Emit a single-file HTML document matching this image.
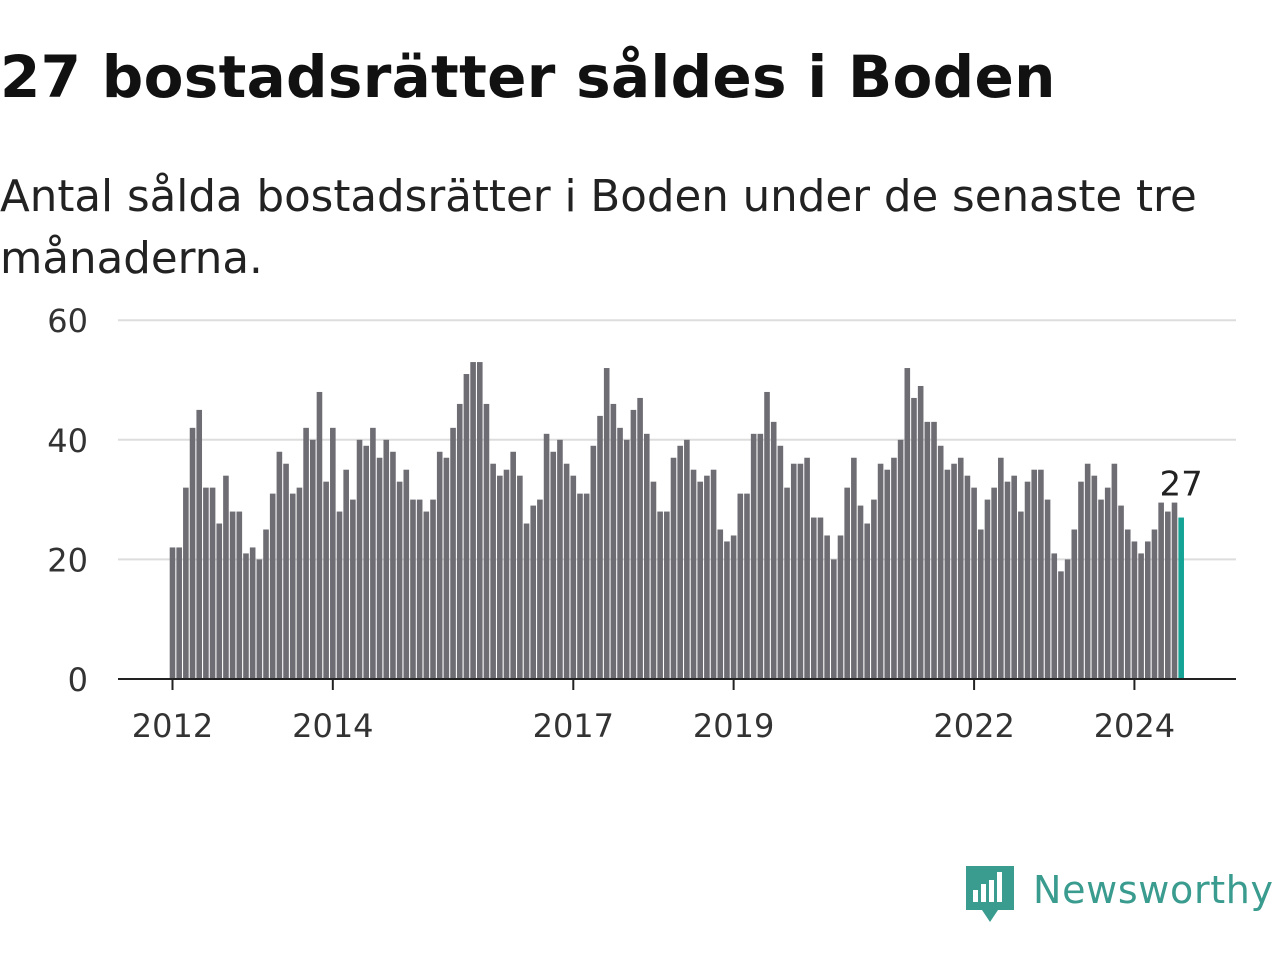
<!DOCTYPE html>
<html><head><meta charset="utf-8"><style>
body{margin:0;width:1280px;height:960px;background:#fff;font-family:"DejaVu Sans","Liberation Sans",sans-serif;overflow:hidden}
#t{position:absolute;left:0;top:43px;font-size:58px;font-weight:bold;color:#111;letter-spacing:0.3px;white-space:nowrap}
#s{position:absolute;left:0;top:166px;font-size:43.5px;color:#222;line-height:62px;width:1260px}
svg{position:absolute;left:0;top:0}
</style></head><body>
<div id="t">27 bostadsrätter såldes i Boden</div>
<div id="s">Antal sålda bostadsrätter i Boden under de senaste tre månaderna.</div>
<svg id="c" width="1280" height="960"></svg>
<script>
const values=[22,22,32,42,45,32,32,26,34,28,28,21,
22,20,25,31,38,36,31,32,42,40,48,33,
42,28,35,30,40,39,42,37,40,38,33,35,
30,30,28,30,38,37,42,46,51,53,53,46,
36,34,35,38,34,26,29,30,41,38,40,36,
34,31,31,39,44,52,46,42,40,45,47,41,
33,28,28,37,39,40,35,33,34,35,25,23,
24,31,31,41,41,48,43,39,32,36,36,37,
27,27,24,20,24,32,37,29,26,30,36,35,
37,40,52,47,49,43,43,39,35,36,37,34,
32,25,30,32,37,33,34,28,33,35,35,30,
21,18,20,25,33,36,34,30,32,36,29,25,
23,21,23,25,29.5,28,29.5,27];
const yTicks=[0,20,40,60];
const xTickLabels=["2012","2014","2017","2019","2022","2024"];
const xTickIndex=[0,24,60,84,120,144];
const NS="http://www.w3.org/2000/svg",svg=document.getElementById('c');
const x=i=>172.5+i*6.68, y=v=>679-v*5.98;
function mk(t,a){const e=document.createElementNS(NS,t);for(const k in a)e.setAttribute(k,a[k]);svg.appendChild(e);return e;}
yTicks.forEach(v=>{
 if(v>0){const g=mk('line',{x1:118,x2:1236,y1:y(v),y2:y(v),stroke:'#ddd','stroke-width':2});
 
 }
 const t=mk('text',{x:88,y:y(v)+12,'text-anchor':'end','font-size':32,fill:'#333'});t.textContent=v;
 
 
});
values.forEach((v,i)=>{
 const last=i===values.length-1;
 const r=mk('rect',{x:x(i)-2.8,y:y(v),width:5.6,height:679-y(v),fill:last?'#14a394':'#6e6d74'});
 
 
});
const lv=values[values.length-1];
const lab=mk('text',{x:x(values.length-1),y:y(lv)-22,'text-anchor':'middle','font-size':34,fill:'#222'});lab.textContent=lv;


const ax=mk('line',{x1:118,x2:1236,y1:679,y2:679,stroke:'#222','stroke-width':2});


xTickLabels.forEach((l,k)=>{
 const xi=x(xTickIndex[k]);
 const tk=mk('line',{x1:xi,x2:xi,y1:679,y2:690,stroke:'#222','stroke-width':2});
 
 
 const t=mk('text',{x:xi,y:737,'text-anchor':'middle','font-size':32,fill:'#333'});t.textContent=l;
 
 
});
</script>
<svg width="1280" height="960">
<path d="M966 866h48v44h-16l-8 12-8-12h-16z" fill="#3a9b8f"/>
<rect x="973" y="890" width="5" height="12" fill="#fff"/><rect x="981" y="884" width="5" height="18" fill="#fff"/><rect x="989" y="880" width="5" height="22" fill="#fff"/><rect x="997" y="872" width="5" height="30" fill="#fff"/>
<text x="1033" y="903" font-size="38" fill="#3a9b8f" font-family="DejaVu Sans, sans-serif" textLength="240">Newsworthy</text>
</svg>
</body></html>
